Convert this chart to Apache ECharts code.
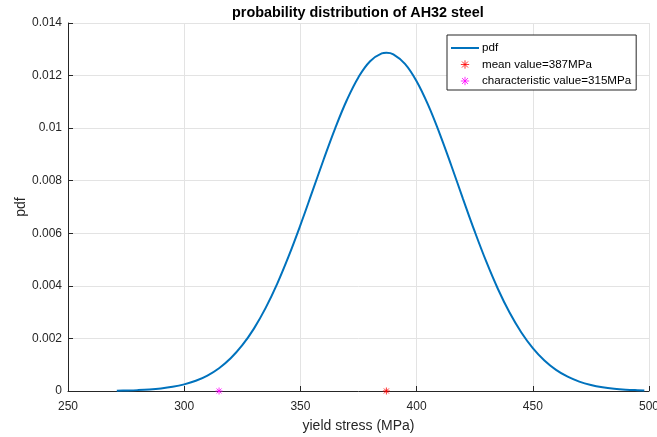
<!DOCTYPE html>
<html>
<head>
<meta charset="utf-8">
<script src="https://cdn.jsdelivr.net/npm/echarts@6/dist/echarts.min.js"></script>
<style>
  html, body { margin: 0; padding: 0; background: #fff; }
  #chart { width: 657px; height: 437px; }
</style>
</head>
<body>
<div id="chart"></div>
<script>
// Yield stress samples (MPa) and the fitted probability density at each one
const stress = [271, 275, 280, 285, 290, 295, 300, 305, 310, 315, 320, 325, 330, 335, 340, 345,
  350, 355, 360, 365, 370, 375, 380, 385, 387, 390, 395, 400, 405, 410, 415, 420, 425, 430,
  435, 440, 445, 450, 455, 460, 465, 470, 475, 480, 485, 490, 495, 498];
const pdfValues = [0.0000117, 0.0000189, 0.0000333, 0.0000573, 0.0000962, 0.0001575, 0.0002509,
  0.0003893, 0.0005885, 0.0008674, 0.001245, 0.0017416, 0.0023736, 0.003152, 0.004078, 0.00514,
  0.006312, 0.007554, 0.008807, 0.010004, 0.011072, 0.01194, 0.012545, 0.012842, 0.012869,
  0.012809, 0.012448, 0.011786, 0.010873, 0.009773, 0.008559, 0.007302, 0.006071, 0.004918,
  0.003881, 0.002984, 0.002236, 0.001632, 0.001161, 0.000804, 0.000543, 0.000357, 0.000229,
  0.000143, 0.000087, 0.0000516, 0.0000298, 0.0000212];

// Marked stresses
const meanValue = 387;
const characteristicValue = 315;

const seriesNames = ['pdf', 'mean value=387MPa', 'characteristic value=315MPa'];
const chartTitle = 'probability distribution of AH32 steel';
const xName = 'yield stress (MPa)';
const yName = 'pdf';

const font = '"Liberation Sans", Arial, Helvetica, sans-serif';
const textColor = '#262626';
const blue = '#0072bd';
const red = '#ff0000';
const magenta = '#ff00ff';
// eight-spoke star marker, stroked only
const asterisk = 'path://M0,-5L0,5M-5,0L5,0M-3.6,-3.6L3.6,3.6M-3.6,3.6L3.6,-3.6';
// same star with invisible corner points so it sits a little smaller inside the legend slot
const legendAsterisk = 'path://M-6,-6L-6,-6M6,6L6,6M0,-5L0,5M-5,0L5,0M-3.6,-3.6L3.6,3.6M-3.6,3.6L3.6,-3.6';
// legend line sample: invisible end points keep the box tall so the bar stays thin
const lineIcon = 'path://M0,0L0,0M28,10L28,10M0,4H28V6H0Z';

const chart = echarts.init(document.getElementById('chart'), null, { renderer: 'canvas' });

chart.setOption({
  animation: false,
  backgroundColor: '#fff',
  title: {
    text: chartTitle,
    left: 232,
    top: 6,
    padding: 0,
    textStyle: { fontFamily: font, fontSize: 14.4, fontWeight: 'bold', color: '#000' }
  },
  grid: { left: 68, right: 8, top: 23, bottom: 46, containLabel: false, outerBoundsMode: 'none' },
  legend: {
    orient: 'vertical',
    left: 447,
    top: 35,
    padding: [7, 5, 3, 4],
    itemGap: 4.5,
    itemWidth: 28,
    itemHeight: 10,
    backgroundColor: '#fff',
    borderColor: textColor,
    borderWidth: 1,
    textStyle: { fontFamily: font, fontSize: 11.6, color: '#000', padding: [0, 0, 0, -2] },
    data: [
      { name: seriesNames[0], icon: lineIcon, itemStyle: { color: blue } },
      { name: seriesNames[1], icon: legendAsterisk,
        itemStyle: { color: 'rgba(0,0,0,0)', borderColor: red, borderWidth: 1 } },
      { name: seriesNames[2], icon: legendAsterisk,
        itemStyle: { color: 'rgba(0,0,0,0)', borderColor: magenta, borderWidth: 1 } }
    ]
  },
  xAxis: {
    type: 'value',
    min: 250, max: 500, interval: 50,
    name: xName,
    nameLocation: 'middle',
    nameGap: 28,
    nameTextStyle: { fontFamily: font, fontSize: 14, color: textColor },
    axisLine: { show: true, onZero: false, lineStyle: { color: textColor, width: 1 } },
    axisTick: { show: true, inside: true, length: 5, lineStyle: { color: textColor } },
    axisLabel: { fontFamily: font, fontSize: 12, color: textColor, margin: 10 },
    splitLine: { show: true, lineStyle: { color: '#e3e3e3', width: 1 } }
  },
  yAxis: {
    type: 'value',
    min: 0, max: 0.014, interval: 0.002,
    name: yName,
    nameLocation: 'middle',
    nameGap: 40,
    nameMoveOverlap: false,
    nameRotate: 90,
    nameTextStyle: { fontFamily: font, fontSize: 14, color: textColor },
    axisLine: { show: true, lineStyle: { color: textColor, width: 1 } },
    axisTick: { show: true, inside: true, length: 5, lineStyle: { color: textColor } },
    axisLabel: { fontFamily: font, fontSize: 12, color: textColor, margin: 6 },
    splitLine: { show: true, lineStyle: { color: '#e3e3e3', width: 1 } }
  },
  series: [
    {
      name: seriesNames[0],
      type: 'line',
      data: stress.map((s, i) => [s, pdfValues[i]]),
      showSymbol: false,
      symbol: 'none',
      smooth: 0.4,
      color: blue,
      lineStyle: { color: blue, width: 2 }
    },
    {
      name: seriesNames[1],
      type: 'scatter',
      data: [[meanValue, 0]],
      symbol: asterisk,
      symbolSize: 7,
      clip: false,
      z: 5,
      itemStyle: { color: 'rgba(0,0,0,0)', borderColor: red, borderWidth: 1 }
    },
    {
      name: seriesNames[2],
      type: 'scatter',
      data: [[characteristicValue, 0]],
      symbol: asterisk,
      symbolSize: 7,
      clip: false,
      z: 5,
      itemStyle: { color: 'rgba(0,0,0,0)', borderColor: magenta, borderWidth: 1 }
    }
  ]
});
</script>
</body>
</html>
